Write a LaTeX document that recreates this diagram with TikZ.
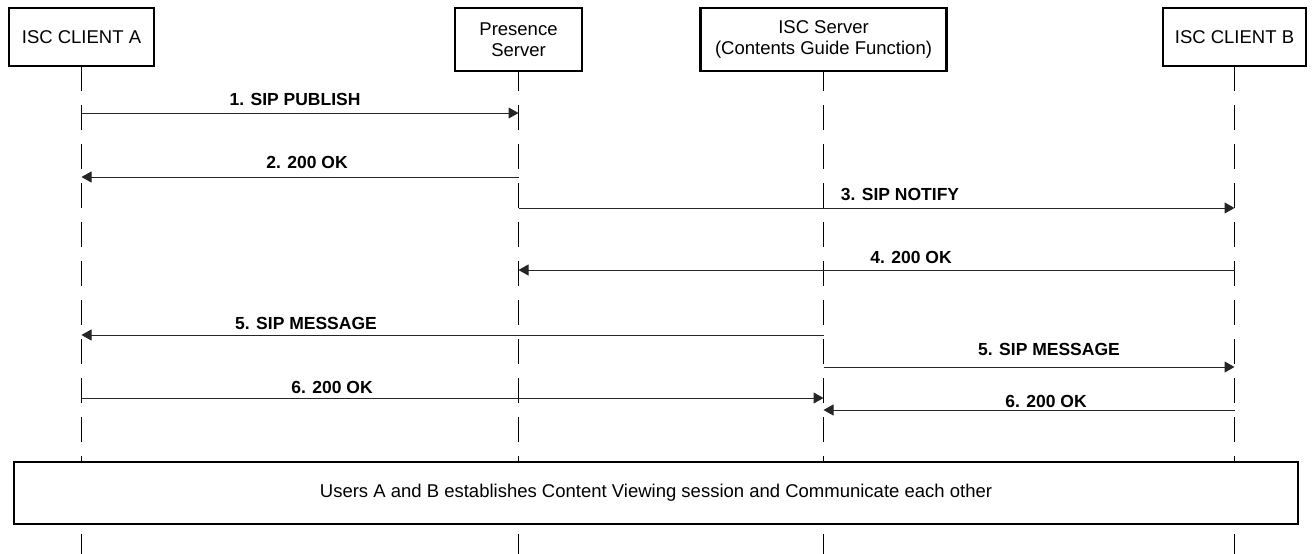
\documentclass[tikz,border=0pt]{standalone}
\usepackage{fontspec}
\setmainfont{Liberation Sans}
\usetikzlibrary{arrows.meta,backgrounds}
\tikzset{
  actor/.style={draw=black, line width=2.2pt, fill=white, align=center, inner sep=0pt,
    font=\fontsize{18.5}{21}\selectfont},
  life/.style={draw=black, line width=1.2pt, dash pattern=on 25pt off 14pt},
  msg/.style={draw=black!85, line width=1pt, -{Triangle[length=10pt,width=11pt]}},
  lbl/.style={anchor=base, inner sep=0pt, font=\fontsize{17.5}{20}\selectfont\bfseries},
  note/.style={draw=black, line width=2.2pt, fill=white, inner sep=0pt,
    font=\fontsize{18.5}{21}\selectfont}
}
\begin{document}
\begin{tikzpicture}[x=1pt,y=-1pt]
\useasboundingbox (0,0) rectangle (1312,554);
% actors
\node[actor, minimum width=145pt, minimum height=58pt] (A) at (81.5,37) {ISC CLIENT A};
\node[actor, minimum width=127pt, minimum height=63pt] (P) at (518.5,39.5) {Presence\\Server};
\node[actor, minimum width=246pt, minimum height=63pt] (S) at (823.5,39.5) {ISC Server\\(Contents Guide Function)};
\node[actor, minimum width=143pt, minimum height=58pt] (B) at (1234.5,37) {ISC CLIENT B};
% rows
\coordinate (top) at (0,66);
\coordinate (bot) at (0,554);
\coordinate (r1) at (0,113);
\coordinate (r2) at (0,177);
\coordinate (r3) at (0,208);
\coordinate (r4) at (0,270);
\coordinate (r5) at (0,335);
\coordinate (r5b) at (0,367);
\coordinate (r6) at (0,398);
\coordinate (r6b) at (0,410);
% lifelines
\begin{pgfonlayer}{background}
\draw[life] (A |- top) -- (A |- bot);
\draw[life] (P |- top) -- (P |- bot);
\draw[life] (S |- top) -- (S |- bot);
\draw[life] (B |- top) -- (B |- bot);
\end{pgfonlayer}
% messages
\draw[msg] (A |- r1) -- (P |- r1);
\node[lbl] (l1) at (295,105) {1. SIP PUBLISH};
\draw[msg] (P |- r2) -- (A |- r2);
\node[lbl] (l2) at (307,168) {2. 200 OK};
\draw[msg] (P |- r3) -- (B |- r3);
\node[lbl] (l3) at (900,200) {3. SIP NOTIFY};
\draw[msg] (B |- r4) -- (P |- r4);
\node[lbl] (l4) at (911,263) {4. 200 OK};
\draw[msg] (S |- r5) -- (A |- r5);
\node[lbl] (l5) at (306,329) {5. SIP MESSAGE};
\draw[msg] (S |- r5b) -- (B |- r5b);
\node[lbl] (l5b) at (1049,355) {5. SIP MESSAGE};
\draw[msg] (A |- r6) -- (S |- r6);
\node[lbl] (l6) at (332,393) {6. 200 OK};
\draw[msg] (B |- r6b) -- (S |- r6b);
\node[lbl] (l6b) at (1046,407) {6. 200 OK};
% session box
\node[note, minimum width=1284pt, minimum height=62pt] (N) at (656,493)
  {Users A and B establishes Content Viewing session and Communicate each other};
\end{tikzpicture}
\end{document}
